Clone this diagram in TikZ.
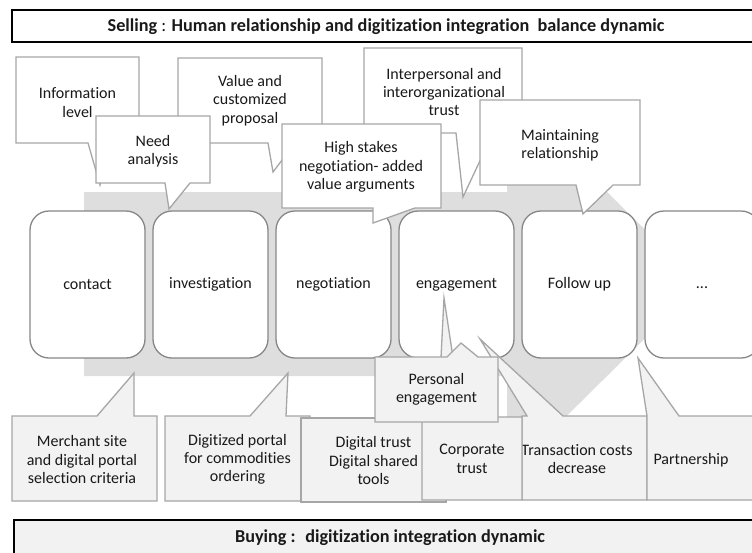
\documentclass[tikz,border=0pt]{standalone}
\usepackage{fontspec}
\setmainfont{Carlito}[Ligatures=NoCommon]
\begin{document}
\begin{tikzpicture}[
	x=1pt, y=-1pt,
	every node/.style={font=\fontsize{16}{18.3}\selectfont, text=black!90, inner sep=0pt},
	stagebox/.style={shape=rectangle, rounded corners=19pt, draw=black!47, line width=1.3pt, fill=white, minimum width=115pt, minimum height=147pt},
	topcall/.style={draw=black!35, line width=1.3pt, fill=white, line join=miter},
	bottomcall/.style={draw=black!35, line width=1.3pt, fill=black!5, line join=miter},
	titlebox/.style={draw=black, line width=1.6pt},
	titletext/.style={font=\fontsize{18.2}{20}\selectfont},
	calltext/.style={align=center},
]
\useasboundingbox (0,0) rectangle (752,552);
\clip (0,0) rectangle (752,552);

\draw[titlebox, fill=white] (12,10) rectangle (760,42);
\node[titletext] (sellingtitle) at (386,27) {\textbf{Selling} : \textbf{Human relationship and digitization integration~ balance dynamic}};

\fill[black!13] (84,192) -- (507,192) -- (507,93) -- (700,284) -- (507,475) -- (507,376) -- (84,376) -- cycle;

\node[stagebox] (contact) at (87.5,284.5) {contact};
\node[stagebox] (investigation) at (210.5,284.5) {investigation};
\node[stagebox] (negotiation) at (333.5,284.5) {negotiation};
\node[stagebox] (engagement) at (456.5,284.5) {engagement};
\node[stagebox] (followup) at (579.5,284.5) {Follow up};
\node[stagebox] (more) at (702.5,284.5) {};
\node (moredots) at (702,288) {...};

\draw[topcall] (16,57) -- (139,57) -- (139,143) -- (110,143) -- (100,185) -- (88,143) -- (16,143) -- cycle;
\node[calltext] (infolevel) at (77.5,102.5) {Information\\level};
\draw[topcall] (178,58) -- (322,58) -- (322,143) -- (295,143) -- (273,172) -- (268,143) -- (178,143) -- cycle;
\node[calltext] (valueprop) at (250,100.5) {Value and\\customized\\proposal};
\draw[topcall] (364,48) -- (522,48) -- (522,133) -- (493,133) -- (463,197) -- (456,133) -- (364,133) -- cycle;
\node[calltext] (trustcall) at (444,92) {Interpersonal and\\interorganizational\\trust};
\draw[topcall] (96,116) -- (210,116) -- (210,183) -- (190,183) -- (169,209) -- (165,183) -- (96,183) -- cycle;
\node[calltext] (needcall) at (153,151.5) {Need\\analysis};
\draw[topcall] (282,124) -- (441,124) -- (441,208) -- (415,208) -- (373,223) -- (373,208) -- (282,208) -- cycle;
\node[calltext] (stakescall) at (361,167) {High stakes\\negotiation- added\\value arguments};
\draw[topcall] (480,100) -- (640,100) -- (640,185) -- (613,185) -- (583,214) -- (576,185) -- (480,185) -- cycle;
\node[calltext] (maintcall) at (560,145) {Maintaining\\relationship};

\draw[bottomcall] (12,416) -- (97,416) -- (134,373) -- (134,416) -- (157,416) -- (157,501) -- (12,501) -- cycle;
\node[calltext] (merchcall) at (82,459.5) {Merchant site\\and digital portal\\selection criteria};
\draw[bottomcall] (165,416) -- (250,416) -- (288,373) -- (286,416) -- (310,416) -- (310,501) -- (165,501) -- cycle;
\node[calltext] (portalcall) at (237.5,459.5) {Digitized portal\\for commodities\\ordering};
\draw[bottomcall] (301,418) rectangle (446,502);
\node[calltext] (digitcall) at (373.5,460.5) {Digital trust\\Digital shared\\tools};
\draw[bottomcall] (522,416) -- (527,416) -- (480,339) -- (563,416) -- (647,416) -- (647,500) -- (522,500) -- cycle;
\node[calltext] (costcall) at (577,459) {Transaction costs\\decrease};
\draw[bottomcall] (422,417) -- (438,417) -- (444,298) -- (462,417) -- (522,417) -- (522,500) -- (422,500) -- cycle;
\node[calltext] (corpcall) at (472,459) {Corporate\\trust};
\draw[bottomcall] (647,416) -- (638,358) -- (679,416) -- (760,416) -- (760,500) -- (647,500) -- cycle;
\node[calltext] (partcall) at (691,460) {Partnership};
\draw[bottomcall] (375,357) -- (447,357) -- (461,343) -- (478,357) -- (498,357) -- (498,422) -- (375,422) -- cycle;
\node[calltext] (personcall) at (436.5,389.5) {Personal\\engagement};

\draw[titlebox, fill=black!5] (14,520) rectangle (760,560);
\node[titletext] (buyingtitle) at (390,538) {\textbf{Buying :~ digitization integration dynamic}};
\end{tikzpicture}
\end{document}
